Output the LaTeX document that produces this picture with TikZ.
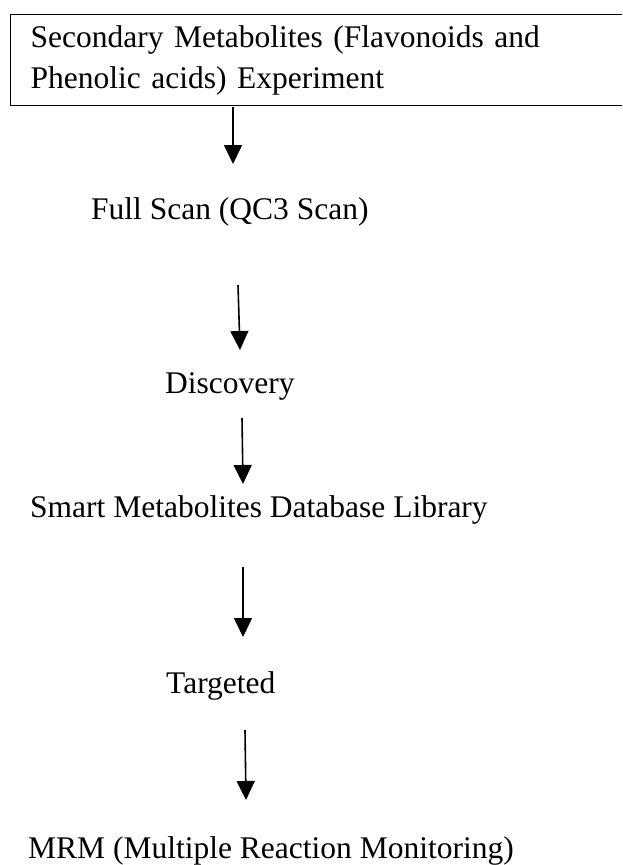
\documentclass[tikz,border=0pt]{standalone}
\usepackage{fontspec}
\setmainfont{Liberation Serif}
\usetikzlibrary{arrows.meta}
\tikzset{
  stage/.style={inner sep=0pt, anchor=base west, font=\fontsize{31.5}{41}\selectfont},
  framed/.style={draw, line width=1.3pt, anchor=north west, minimum width=630pt, minimum height=91pt, text width=590pt, align=left, inner xsep=18pt, inner ysep=0pt, font=\fontsize{31.5}{41}\selectfont},
  flow/.style={-{Triangle[length=19pt, width=18pt]}, line width=1.6pt},
}

\begin{document}
\begin{tikzpicture}[x=1pt, y=-1pt]
  \clip (0,0) rectangle (622,865);
  % steps of the workflow
  \node[framed] (exp) at (10,14) {Secondary Metabolites (Flavonoids and\\Phenolic acids) Experiment};
  \node[stage] (fullscan) at (91,219) {Full Scan (QC3 Scan)};
  \node[stage] (discovery) at (165,393) {Discovery};
  \node[stage] (library) at (30,517) {Smart Metabolites Database Library};
  \node[stage] (targeted) at (166,693) {Targeted};
  \node[stage] (mrm) at (28,858) {MRM (Multiple Reaction Monitoring)};
  % arrow ends
  \coordinate (a1s) at (233,107);  \coordinate (a1e) at (233,164);
  \coordinate (a2s) at (238,285);  \coordinate (a2e) at (240,350);
  \coordinate (a3s) at (242,418);  \coordinate (a3e) at (243,484);
  \coordinate (a4s) at (243,567);  \coordinate (a4e) at (243,637);
  \coordinate (a5s) at (245,730);  \coordinate (a5e) at (246,800);
  \foreach \a/\b in {a1s/a1e, a2s/a2e, a3s/a3e, a4s/a4e, a5s/a5e} \draw[flow] (\a) -- (\b);
\end{tikzpicture}
\end{document}
